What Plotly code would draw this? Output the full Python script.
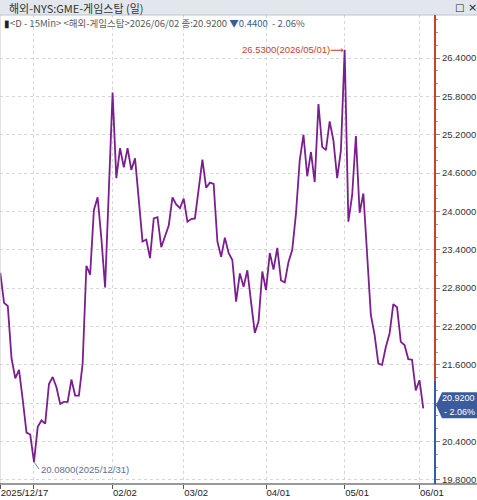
import pandas as pd
import plotly.graph_objects as go

# ---- data -------------------------------------------------------------
holidays = ["2025-12-25", "2026-01-01", "2026-01-19", "2026-02-16", "2026-04-03", "2026-05-25"]
trade_days = [d for d in pd.bdate_range("2025-12-17", "2026-06-02").strftime("%Y-%m-%d") if d not in holidays]

close = [
    23.04, 22.57, 22.52, 21.70, 21.39, 21.52, 21.05, 20.54, 20.51, 20.08,
    20.63, 20.73, 20.68, 21.30, 21.41, 21.25, 20.99, 21.02, 21.02, 21.37,
    21.12, 21.12, 21.62, 23.15, 23.01, 24.02, 24.22, 23.58, 22.81, 24.34,
    25.86, 24.52, 24.99, 24.69, 24.99, 24.65, 24.83, 24.18, 23.53, 23.56,
    23.27, 23.89, 23.91, 23.44, 23.61, 23.78, 24.22, 24.11, 24.05, 24.20,
    23.84, 23.88, 23.89, 24.34, 24.81, 24.37, 24.45, 24.43, 23.53, 23.29,
    23.59, 23.35, 23.24, 22.59, 23.03, 22.82, 23.08, 22.58, 22.10, 22.28,
    23.06, 22.77, 23.35, 23.09, 23.43, 22.92, 22.89, 23.21, 23.40, 23.97,
    24.80, 25.20, 24.55, 24.93, 24.46, 25.68, 25.01, 24.96, 25.41, 25.11,
    24.52, 24.95, 26.53, 23.84, 24.25, 25.18, 23.98, 24.28, 23.33, 22.38,
    22.07, 21.62, 21.60, 21.88, 22.09, 22.55, 22.50, 21.96, 21.91, 21.69,
    21.68, 21.20, 21.36, 20.92,
]

tick_dates = ["2025-12-17", "2025-12-31", "2026-02-02", "2026-03-02", "2026-04-01", "2026-05-01", "2026-06-01"]
tick_text = ["2025/12/17", "", "02/02", "03/02", "04/01", "05/01", "06/01"]
y_ticks = [19.8, 20.4, 21.0, 21.6, 22.2, 22.8, 23.4, 24.0, 24.6, 25.2, 25.8, 26.4]

title_text = "해외-NYS:GME-게임스탑 (일)"
info_prefix = "<D - 15Min> <해외-게임스탑>2026/06/02 종:"
change = 0.44
change_pct = -2.06

# ---- derived ----------------------------------------------------------
last = close[-1]
prev_close = last + change
hi_i = max(range(len(close)), key=lambda i: close[i])
lo_i = min(range(len(close)), key=lambda i: close[i])

W, H = 477, 500
ML, MR, MT, MB = 0, 42, 15, 16
PW, PH = W - ML - MR, H - MT - MB
Y0, Y1 = 19.736, 27.073
UPP = (Y1 - Y0) / PH  # value units per pixel

FONT = "Liberation Sans, DejaVu Sans, sans-serif"
KFONT = "Noto Sans CJK KR, Liberation Sans, sans-serif"
RED = "#c2452f"
BLUE = "#3b5c9c"
GRID = "#d6d6d6"

fig = go.Figure()
fig.add_trace(go.Scatter(
    x=trade_days, y=close, mode="lines",
    line=dict(color="#7b1e8e", width=1.8),
    hoverinfo="skip", showlegend=False,
))

tag_top = last + 16 * UPP
tag_bot = last - 10 * UPP
tag_mid = (tag_top + tag_bot) / 2

# tick labels hidden behind the last-price tag (as in the reference)
y_ticktext = ["" if (tag_bot - 6 * UPP) <= v <= (tag_top + 6 * UPP) else f"{v:.4f}" for v in y_ticks]

shapes = [
    # title bar
    dict(type="rect", xref="paper", yref="paper", x0=0, x1=W / PW, y0=1, y1=1 + MT / PH,
         fillcolor="#e2e7ee", line=dict(width=0), layer="above"),
    dict(type="line", xref="paper", yref="paper", x0=0, x1=W / PW, y0=1, y1=1,
         line=dict(color="#b9c3ce", width=1)),
    # left border
    dict(type="line", xref="paper", yref="paper", x0=0, x1=0, y0=0, y1=1,
         line=dict(color="#c8c8c8", width=1)),
    # bottom axis line spanning full width
    dict(type="line", xref="paper", yref="paper", x0=0, x1=W / PW, y0=0, y1=0,
         line=dict(color="#333333", width=1)),
    # right axis: red above previous close, blue below
    dict(type="line", xref="paper", yref="y", x0=1, x1=1, y0=prev_close, y1=Y1 + 1,
         line=dict(color=RED, width=2)),
    dict(type="line", xref="paper", yref="y", x0=1, x1=1, y0=Y0 - 1, y1=prev_close,
         line=dict(color=BLUE, width=2)),
    # last price tag (pointed box)
    dict(type="path", xref="paper", yref="y", layer="above",
         path=(f"M {1 + 1 / PW},{tag_mid} L {1 + 7 / PW},{tag_top} L {W / PW},{tag_top} "
               f"L {W / PW},{tag_bot} L {1 + 7 / PW},{tag_bot} Z"),
         fillcolor=BLUE, line=dict(width=0)),
]

annotations = [
    dict(xref="paper", yref="paper", x=7 / PW, y=1 + 7.5 / PH, xanchor="left", yanchor="middle",
         text=title_text, showarrow=False, font=dict(family=KFONT, size=11, color="#333333")),
    dict(xref="paper", yref="paper", x=(W - 18) / PW, y=1 + 7.5 / PH, xanchor="center", yanchor="middle",
         text="□", showarrow=False, font=dict(family="DejaVu Sans", size=10, color="#222222")),
    dict(xref="paper", yref="paper", x=(W - 5) / PW, y=1 + 7.5 / PH, xanchor="center", yanchor="middle",
         text="×", showarrow=False, font=dict(family="DejaVu Sans", size=11, color="#222222")),
    dict(xref="paper", yref="paper", x=2 / PW, y=1 - 8 / PH, xanchor="left", yanchor="middle",
         text=("<span style='color:#222'>▮</span>" + info_prefix.replace("<", "&lt;").replace(">", "&gt;")
               + f"{last:.4f} <span style='color:{BLUE}'>▼{change:.4f}</span>"
               + f"  <span style='color:#555c7a'>- {abs(change_pct):.2f}%</span>"),
         showarrow=False, font=dict(family=KFONT, size=9.5, color="#5a5a5a")),
    # high marker
    dict(x=trade_days[hi_i], y=close[hi_i], xanchor="right", yanchor="middle", xshift=1,
         text=f"{close[hi_i]:.4f}({trade_days[hi_i].replace('-', '/')})⟶", showarrow=False,
         font=dict(family=FONT, size=9.5, color=RED)),
    # low marker
    dict(x=trade_days[lo_i], y=close[lo_i], xanchor="left", yanchor="middle",
         ax=5, ay=7, showarrow=True, arrowhead=0, arrowwidth=1, arrowcolor="#6d7fa6",
         text=f"{close[lo_i]:.4f}({trade_days[lo_i].replace('-', '/')})",
         font=dict(family=FONT, size=9.5, color="#5d6f99")),
    # last price tag text
    dict(xref="paper", yref="y", x=(W - 1) / PW, y=tag_mid, xanchor="right", yanchor="bottom", yshift=1,
         text=f"{last:.4f}", showarrow=False, borderpad=0,
         font=dict(family=FONT, size=9, color="white")),
    dict(xref="paper", yref="y", x=(W - 1) / PW, y=tag_mid, xanchor="right", yanchor="top", yshift=-1,
         text=f"- {abs(change_pct):.2f}%", showarrow=False, borderpad=0,
         font=dict(family=FONT, size=9, color="white")),
]

fig.update_layout(
    width=W, height=H,
    margin=dict(l=ML, r=MR, t=MT, b=MB, pad=0),
    paper_bgcolor="white", plot_bgcolor="white",
    showlegend=False,
    shapes=shapes, annotations=annotations,
    xaxis=dict(
        type="category", range=[-0.08, 116.14],
        tickvals=tick_dates, ticktext=tick_text,
        ticks="outside", ticklen=4, tickcolor="#555555", tickwidth=1,
        ticklabelposition="outside right",
        tickfont=dict(family=FONT, size=9.5, color="#222222"),
        showgrid=True, gridcolor=GRID, griddash="3px,3px", gridwidth=1,
        showline=False, zeroline=False, fixedrange=True, automargin=False,
    ),
    yaxis=dict(
        side="right", range=[Y0, Y1],
        tickvals=y_ticks, ticktext=y_ticktext,
        ticks="outside", ticklen=4, tickcolor="#888888",
        tickfont=dict(family=FONT, size=9.5, color="#333333"),
        showgrid=True, gridcolor=GRID, griddash="3px,3px", gridwidth=1,
        minor=dict(dtick=0.2, tick0=19.8, ticks="outside", ticklen=2, tickcolor="#999999", showgrid=False),
        showline=False, zeroline=False, fixedrange=True, automargin=False,
    ),
)

fig.write_html("out.html", config={"displayModeBar": False},
               post_script="document.body.style.margin='0';document.body.style.overflow='hidden';")
